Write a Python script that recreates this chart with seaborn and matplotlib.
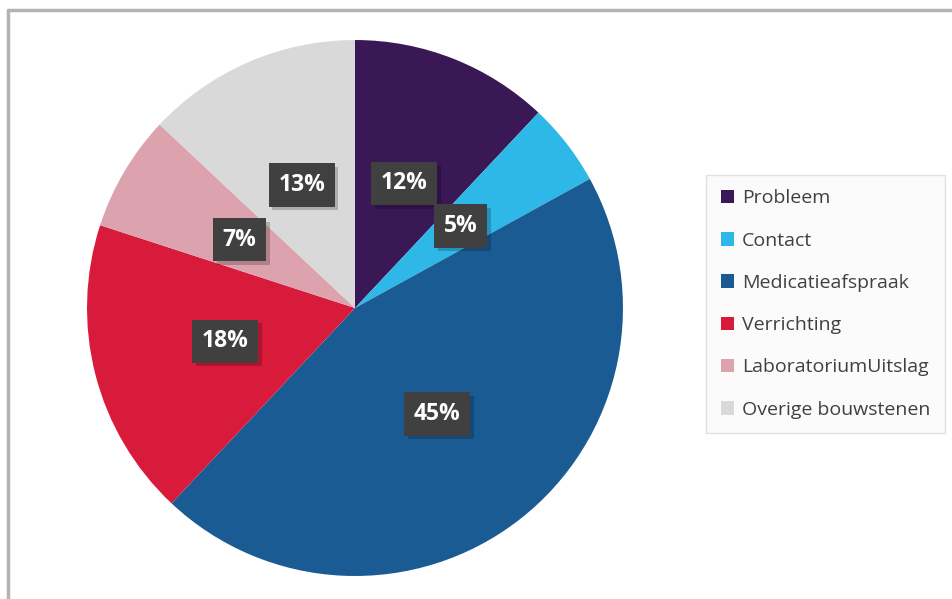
import matplotlib
matplotlib.use("Agg")
import matplotlib.pyplot as plt
import matplotlib.patheffects as pe
from matplotlib.lines import Line2D
import seaborn as sns

# data
categories = ["Probleem", "Contact", "Medicatieafspraak", "Verrichting",
              "LaboratoriumUitslag", "Overige bouwstenen"]
shares = [12, 5, 45, 18, 7, 13]
slice_colors = ["#3a1755", "#2db8e8", "#1b5b93", "#d91b3b", "#dca2ae", "#d9d9d9"]

sns.set_theme(style="white")
plt.rcParams["font.family"] = ["Open Sans", "DejaVu Sans"]

fig = plt.figure(figsize=(9.53, 5.99), dpi=100)
ax = fig.add_axes([0.0913, 0.0384, 0.5624, 0.8948])

wedges, texts, autotexts = ax.pie(
    shares, colors=sns.color_palette(slice_colors), startangle=90,
    counterclock=False, autopct="%d%%", pctdistance=0.5,
    wedgeprops=dict(linewidth=0),
    textprops=dict(color="white", fontsize=16.5, fontweight="bold"))
ax.set_xlim(-1, 1)
ax.set_ylim(-1, 1)
ax.set_aspect("equal")

# dark label boxes with a soft drop shadow
for t in autotexts:
    t.set_bbox(dict(boxstyle="square,pad=0.42", facecolor="#404040",
                    edgecolor="none", linewidth=0))
    t.get_bbox_patch().set_path_effects(
        [pe.withSimplePatchShadow(offset=(2.5, -2.5), shadow_rgbFace="black", alpha=0.2),
         pe.Normal()])

leg = ax.legend(wedges, categories, loc="center",
                bbox_to_anchor=(0.7377, 0.2755, 0.257, 0.434),
                bbox_transform=fig.transFigure, frameon=True, fancybox=False,
                fontsize=14, labelspacing=1.25, handlelength=0.7,
                handleheight=0.7, handletextpad=0.4, borderpad=0.75)
leg.get_frame().set_edgecolor("#d9d9d9")
leg.get_frame().set_facecolor("#fbfbfb")
leg.get_frame().set_linewidth(1)
for txt in leg.get_texts():
    txt.set_color("#404040")

# outer chart border (left and top edges visible)
fig.add_artist(Line2D([0.0084, 0.0084], [0.0, 0.983], color="#b3b3b3",
                      linewidth=2.5, transform=fig.transFigure))
fig.add_artist(Line2D([0.0084, 1.0], [0.983, 0.983], color="#b3b3b3",
                      linewidth=2.5, transform=fig.transFigure))

fig.savefig("out.png", dpi=100)
